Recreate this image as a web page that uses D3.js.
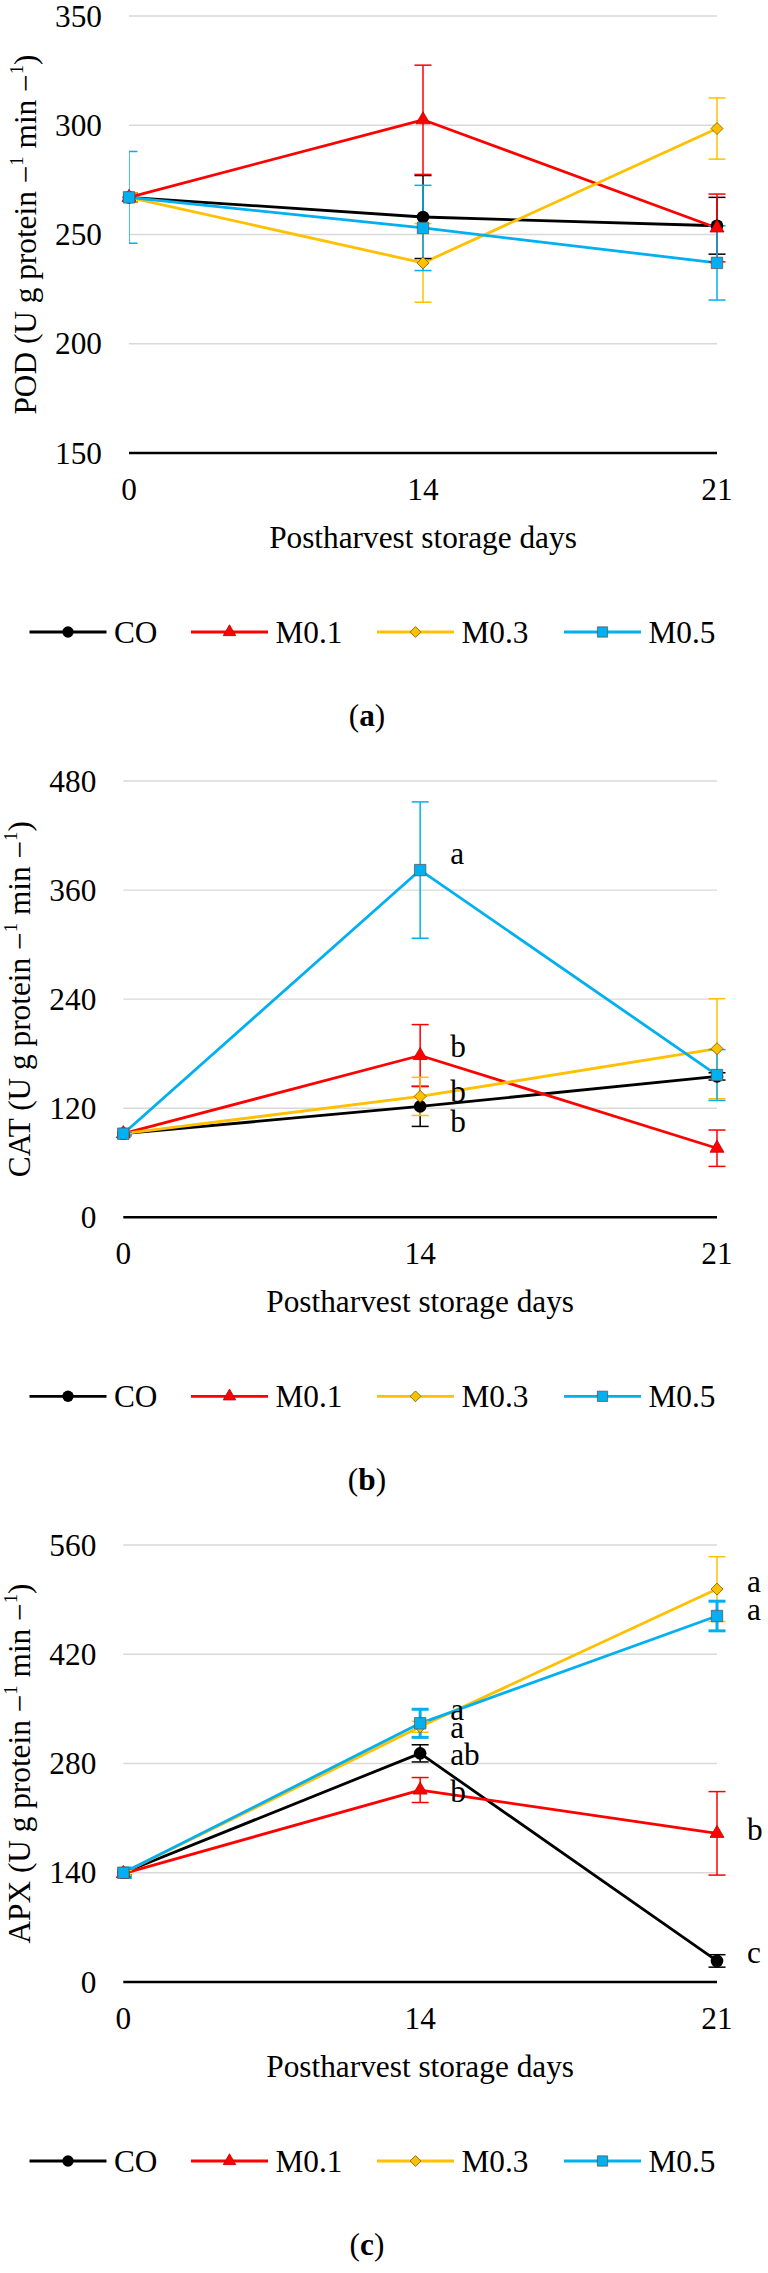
<!DOCTYPE html>
<html><head><meta charset="utf-8">
<script src="https://cdn.jsdelivr.net/npm/d3@7"></script>
<style>
body{margin:0;background:#fff}
svg{display:block}
text{font-family:"Liberation Serif","Times New Roman",serif;fill:#000}
</style>
</head><body>
<svg id="chart" width="768" height="2273"></svg>
<script>
// ---------- data ----------
const days = ["0", "14", "21"];
const seriesNames = ["CO", "M0.1", "M0.3", "M0.5"];
const seriesColors = ["#000000", "#FF0000", "#FFC000", "#00B0F0"];

// (a) POD
const podTicks = [150, 200, 250, 300, 350];
const podCO = [267, 258, 254],   podCOErr = [2, 19, 13];
const podM01 = [267, 302.5, 253], podM01Err = [2, 25, 15.5];
const podM03 = [267, 237, 298.5], podM03Err = [2, 18, 14];
const podM05 = [267, 253, 237],   podM05Err = [21, 19.5, 17];
const podLetters = [];

// (b) CAT
const catTicks = [0, 120, 240, 360, 480];
const catCO = [92, 122, 155],     catCOErr = [2, 22, 4];
const catM01 = [92, 178, 76],     catM01Err = [2, 34, 20];
const catM03 = [92, 133, 185.5],  catM03Err = [2, 21, 55];
const catM05 = [92, 382, 156.5],  catM05Err = [2, 75, 28];
const catLetters = [["14", 389, "a"], ["14", 176.6, "b"], ["14", 127.2, "b"], ["14", 94.2, "b"]];

// (c) APX
const apxTicks = [0, 140, 280, 420, 560];
const apxCO = [140, 293, 27],     apxCOErr = [3, 11, 8];
const apxM01 = [139, 246, 190.5], apxM01Err = [3, 16, 53.5];
const apxM03 = [140, 327, 503.5], apxM03Err = [3, 7, 41.5];
const apxM05 = [140, 331.5, 469], apxM05Err = [6, 18, 19];
const apxLetters = [["14", 335.7, "a"], ["14", 312.3, "a"], ["14", 278.1, "ab"], ["14", 231.1, "b"],
                    ["21", 500.2, "a"], ["21", 463.9, "a"], ["21", 182, "b"], ["21", 24, "c"]];

const panels = [
  {cap: "a", name: "POD", ticks: podTicks, vals: [podCO, podM01, podM03, podM05],
   errs: [podCOErr, podM01Err, podM03Err, podM05Err], letters: podLetters, errW: [1.5, 1.5, 1.5, 1.5]},
  {cap: "b", name: "CAT", ticks: catTicks, vals: [catCO, catM01, catM03, catM05],
   errs: [catCOErr, catM01Err, catM03Err, catM05Err], letters: catLetters, errW: [1.5, 1.5, 1.5, 1.5]},
  {cap: "c", name: "APX", ticks: apxTicks, vals: [apxCO, apxM01, apxM03, apxM05],
   errs: [apxCOErr, apxM01Err, apxM03Err, apxM05Err], letters: apxLetters, errW: [1.5, 1.5, 1.5, 3]}
];

// ---------- layout ----------
const frames = [
  {top: 16, bottom: 453, left: 129, right: 717},
  {top: 781, bottom: 1217.3, left: 123.3, right: 717},
  {top: 1545, bottom: 1982, left: 123.3, right: 717}
];
const FS = 31.3;
const legendX = [29.5, 191, 377, 564];

const svg = d3.select("#chart");

function markerPath(i, s) {
  if (i === 0) return d3.symbol(d3.symbolCircle, 125 * s * s)();
  if (i === 1) return d3.symbol(d3.symbolTriangle, 85 * s * s)();
  if (i === 2) return d3.symbol(d3.symbolSquare, 72 * s * s)();
  return d3.symbol(d3.symbolSquare, 130 * s * s)();
}
const markerStroke = ["#000000", "#C00000", "#7F6000", "#595959"];

function drawMarker(g, i, x, y, s) {
  g.append("path")
    .attr("d", markerPath(i, s))
    .attr("transform", `translate(${x},${y})` + (i === 2 ? " rotate(45)" : ""))
    .attr("fill", seriesColors[i])
    .attr("stroke", markerStroke[i])
    .attr("stroke-width", i === 0 ? 0 : 0.8);
}

panels.forEach((p, pi) => {
  const f = frames[pi];
  const g = svg.append("g");
  const x = d3.scalePoint().domain(days).range([f.left, f.right]);
  const y = d3.scaleLinear().domain([p.ticks[0], p.ticks[p.ticks.length - 1]]).range([f.bottom, f.top]);

  const clipId = "clip" + pi;
  svg.append("defs").append("clipPath").attr("id", clipId)
    .append("rect").attr("x", f.left).attr("y", 0).attr("width", 768).attr("height", 2273);

  // gridlines
  g.selectAll(".grid").data(p.ticks.slice(1)).join("line")
    .attr("x1", f.left).attr("x2", f.right)
    .attr("y1", d => y(d)).attr("y2", d => y(d))
    .attr("stroke", "#d9d9d9").attr("stroke-width", 1.3);
  // axis line
  g.append("line").attr("x1", f.left).attr("x2", f.right)
    .attr("y1", y(p.ticks[0])).attr("y2", y(p.ticks[0]))
    .attr("stroke", "#000").attr("stroke-width", 2.6);

  // y tick labels
  g.selectAll(".yt").data(p.ticks).join("text")
    .attr("x", f.left - 27).attr("y", d => y(d)).attr("dy", "0.34em")
    .attr("text-anchor", "end").attr("font-size", FS).text(d => d);
  // x tick labels
  g.selectAll(".xt").data(days).join("text")
    .attr("x", d => x(d)).attr("y", f.bottom + 46.5)
    .attr("text-anchor", "middle").attr("font-size", FS).text(d => d);
  // x title
  g.append("text").attr("x", (f.left + f.right) / 2).attr("y", f.bottom + 95)
    .attr("text-anchor", "middle").attr("font-size", FS)
    .text("Postharvest storage days");
  // y title
  const cy = (f.top + f.bottom) / 2;
  const yt = g.append("text")
    .attr("transform", `translate(${f.left - 93},${cy}) rotate(-90)`)
    .attr("text-anchor", "middle")
    .attr("font-size", FS);
  yt.append("tspan").text(p.name + " (U g protein ");
  yt.append("tspan").text("\u2212");
  yt.append("tspan").attr("font-size", FS * 0.6).attr("dy", -FS * 0.42).text("1");
  yt.append("tspan").attr("dy", FS * 0.42).text(" min ");
  yt.append("tspan").text("\u2212");
  yt.append("tspan").attr("font-size", FS * 0.6).attr("dy", -FS * 0.42).text("1");
  yt.append("tspan").attr("dy", FS * 0.42).text(")");

  // lines
  const line = d3.line().x((d, k) => x(days[k])).y(d => y(d));
  p.vals.forEach((v, i) => {
    g.append("path").attr("d", line(v)).attr("fill", "none")
      .attr("stroke", seriesColors[i]).attr("stroke-width", 2.8).attr("stroke-linejoin", "round");
  });
  // error bars
  const eg = g.append("g").attr("clip-path", `url(#${clipId})`);
  p.vals.forEach((v, i) => {
    v.forEach((val, k) => {
      const e = p.errs[i][k];
      const cx = x(days[k]);
      const yl = y(val - e), yh = y(val + e);
      const sw = p.errW[i];
      eg.append("line").attr("x1", cx).attr("x2", cx).attr("y1", yl).attr("y2", yh)
        .attr("stroke", seriesColors[i]).attr("stroke-width", sw);
      [yl, yh].forEach(yy => {
        eg.append("line").attr("x1", cx - 8.5).attr("x2", cx + 8.5).attr("y1", yy).attr("y2", yy)
          .attr("stroke", seriesColors[i]).attr("stroke-width", sw);
      });
    });
  });
  // markers
  p.vals.forEach((v, i) => {
    v.forEach((val, k) => drawMarker(g, i, x(days[k]), y(val), 1));
  });

  // significance letters
  g.selectAll(".let").data(p.letters).join("text")
    .attr("x", d => x(d[0]) + 30).attr("y", d => y(d[1]))
    .attr("font-size", FS).text(d => d[2]);

  // legend
  const ly = f.bottom + 179;
  seriesNames.forEach((n, i) => {
    const lx = legendX[i];
    g.append("line").attr("x1", lx).attr("x2", lx + 77).attr("y1", ly).attr("y2", ly)
      .attr("stroke", seriesColors[i]).attr("stroke-width", 2.8);
    drawMarker(g, i, lx + 38.5, ly, 0.9);
    g.append("text").attr("x", lx + 84.5).attr("y", ly).attr("dy", "0.34em")
      .attr("font-size", FS).text(n);
  });

  // caption
  const ct = g.append("text").attr("x", 367).attr("y", f.bottom + 273)
    .attr("text-anchor", "middle").attr("font-size", FS);
  ct.append("tspan").text("(");
  ct.append("tspan").attr("font-weight", "bold").text(p.cap);
  ct.append("tspan").text(")");
});
</script>
</body></html>
